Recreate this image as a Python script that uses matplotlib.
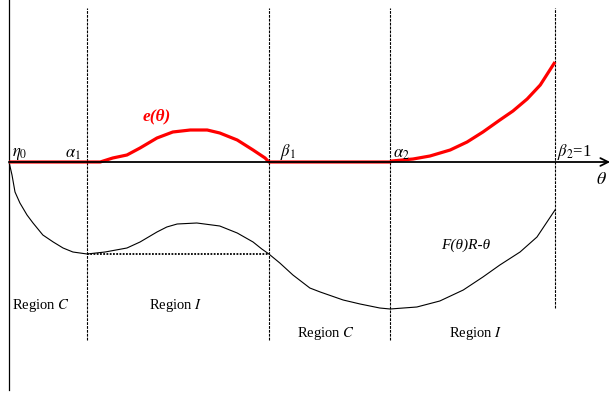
import matplotlib
matplotlib.use("Agg")
import matplotlib.pyplot as plt

plt.rcParams['font.family'] = ['Liberation Serif', 'DejaVu Serif']
plt.rcParams['mathtext.fontset'] = 'stix'

# Region boundaries (theta)
eta0, alpha1, beta1, alpha2, beta2 = 0.0, 0.143, 0.476, 0.698, 1.0
boundary_labels = [r'$\alpha_1$', r'$\beta_1$', r'$\alpha_2$', r'$\beta_2$=1']

# F(theta)R - theta curve
F_theta = [0.0, 0.0055, 0.011, 0.020, 0.033, 0.044, 0.062, 0.081, 0.099, 0.117,
           0.143, 0.176, 0.216, 0.240, 0.271, 0.289, 0.308, 0.344, 0.386, 0.418,
           0.447, 0.463, 0.476, 0.496, 0.520, 0.551, 0.570, 0.612, 0.643, 0.679,
           0.698, 0.747, 0.789, 0.832, 0.868, 0.899, 0.936, 0.967, 1.0]
F_vals = [0.0, -0.13, -0.30, -0.41, -0.53, -0.61, -0.73, -0.80, -0.86, -0.90,
          -0.92, -0.90, -0.86, -0.80, -0.70, -0.65, -0.62, -0.61, -0.64, -0.71,
          -0.80, -0.87, -0.92, -1.01, -1.13, -1.26, -1.30, -1.38, -1.42, -1.46,
          -1.47, -1.45, -1.39, -1.28, -1.15, -1.03, -0.90, -0.75, -0.48]

# e(theta) curve
e_theta = [0.0, 0.143, 0.167, 0.190, 0.216, 0.240, 0.271, 0.300, 0.332, 0.363,
           0.386, 0.418, 0.447, 0.469, 0.476, 0.698, 0.701, 0.740, 0.771, 0.808,
           0.839, 0.868, 0.899, 0.923, 0.949, 0.973, 1.0]
e_vals = [0.0, 0.0, 0.0, 0.04, 0.07, 0.14, 0.24, 0.30, 0.32, 0.32,
          0.29, 0.22, 0.12, 0.04, 0.0, 0.0, 0.01, 0.03, 0.06, 0.12,
          0.20, 0.30, 0.42, 0.51, 0.63, 0.77, 1.00]

region_labels = ['Region $C$', 'Region $I$', 'Region $C$', 'Region $I$']

fig = plt.figure(figsize=(6.13, 3.96), dpi=100)
ax = fig.add_axes([0, 0, 1, 1])
ax.set_xlim(-9 / 546, 604 / 546)
ax.set_ylim(-2.34, 1.62)
ax.axis('off')

# left vertical axis
ax.plot([eta0, eta0], [-2.28, 1.62], color='black', lw=0.9)
# horizontal theta axis with arrow
ax.annotate('', xy=(1.101, 0), xytext=(eta0, 0),
            arrowprops=dict(arrowstyle='->', color='black', lw=1.3,
                            mutation_scale=14, shrinkA=0, shrinkB=0))

# dashed boundary lines
bounds = [alpha1, beta1, alpha2, beta2]
bottoms = [-1.78, -1.78, -1.78, -1.46]
for b, bt in zip(bounds, bottoms):
    ax.plot([b, b], [bt, 1.54], color='black', lw=0.8, ls=(0, (2.5, 1)))

# dotted horizontal line
ax.plot([alpha1, beta1], [F_vals[10], F_vals[10]], color='black', lw=1.3, ls=(0, (1, 0.8)))

# curves
ax.plot(F_theta, F_vals, color='black', lw=0.8, solid_joinstyle='round')
ax.plot(e_theta, e_vals, color='#ff0000', lw=2.3, solid_capstyle='butt',
        solid_joinstyle='round')

# boundary labels
ax.text(0.006, 0.005, r'$\eta_0$', fontsize=12, ha='left', va='bottom')
ax.text(0.131, 0.005, boundary_labels[0], fontsize=12, ha='right', va='bottom')
ax.text(0.497, 0.005, boundary_labels[1], fontsize=12, ha='left', va='bottom')
ax.text(0.703, 0.005, boundary_labels[2], fontsize=12, ha='left', va='bottom')
ax.text(1.003, 0.005, boundary_labels[3], fontsize=12, ha='left', va='bottom')
ax.text(1.085, -0.18, r'$\theta$', fontsize=13, ha='center', va='center')

ax.text(0.271, 0.46, 'e(θ)', color='#ff0000', fontsize=12.5, style='italic',
        weight='bold', ha='center', va='center')
ax.text(0.837, -0.83, 'F(θ)R-θ', fontsize=11, style='italic', ha='center', va='center')

region_pos = [(0.0586, -1.44), (0.306, -1.44), (0.581, -1.71), (0.855, -1.71)]
for lab, (x, y) in zip(region_labels, region_pos):
    ax.text(x, y, lab, fontsize=10.5, ha='center', va='center')

fig.savefig('out.png', dpi=100)
